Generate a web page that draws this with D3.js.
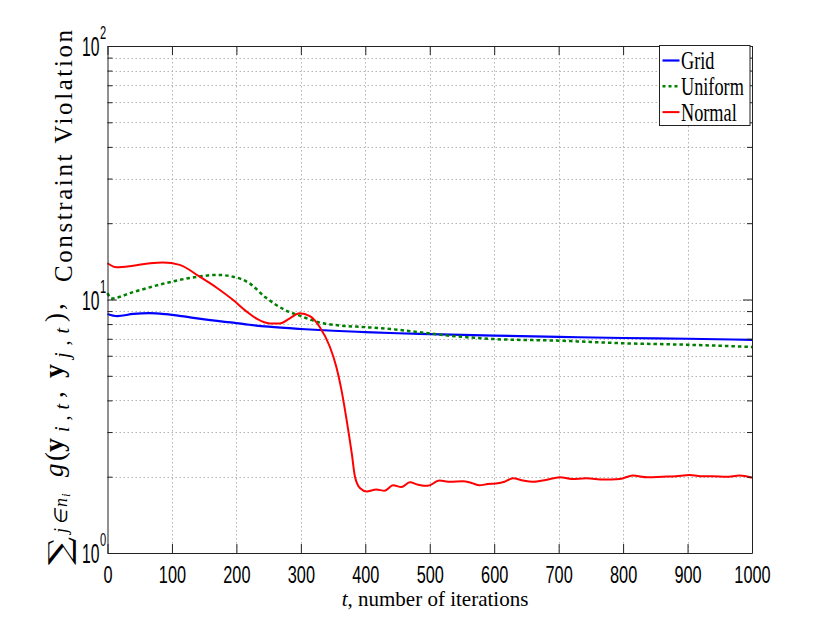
<!DOCTYPE html>
<html>
<head>
<meta charset="utf-8">
<script src="https://cdn.jsdelivr.net/npm/d3@7"></script>
<style>
body { margin: 0; background: #fff; }
</style>
</head>
<body>
<div id="chart"></div>
<script>
// values
var gridT = [0, 15, 40, 65, 90, 115, 145, 170, 195, 220, 250, 300, 350, 400, 450, 500, 600, 700, 800, 900, 1000];
var gridV = [8.77, 8.6, 8.77, 8.83, 8.75, 8.6, 8.38, 8.23, 8.1, 7.95, 7.81, 7.65, 7.53, 7.44, 7.36, 7.3, 7.2, 7.12, 7.05, 7.0, 6.93];

var uniformT = [0, 6, 40, 90, 140, 170, 195, 220, 245, 275, 300, 330, 360, 400, 450, 480, 530, 580, 600, 700, 800, 900, 1000];
var uniformV = [10.6, 10.1, 10.7, 11.6, 12.3, 12.5, 12.3, 11.6, 10.2, 9.1, 8.6, 8.1, 7.9, 7.78, 7.6, 7.45, 7.2, 7.03, 6.98, 6.88, 6.72, 6.63, 6.5];

var normalT = [0, 14, 40, 66, 86, 112, 143, 170, 195, 216, 232, 252, 267, 283, 298, 314, 329, 345, 355, 363, 371, 379, 384, 392, 402, 417, 430, 443, 456, 469, 482, 497, 515, 532, 551, 565, 577, 590, 603, 616, 629, 645, 660, 680, 702, 720, 743, 770, 795, 815, 838, 861, 882, 903, 920, 939, 960, 981, 1000];
var normalV = [13.9, 13.4, 13.6, 13.9, 14.0, 13.7, 12.3, 11.1, 9.95, 8.96, 8.38, 8.05, 8.05, 8.43, 8.83, 8.6, 7.81, 6.51, 5.43, 4.40, 3.35, 2.47, 2.0, 1.80, 1.75, 1.78, 1.76, 1.85, 1.82, 1.90, 1.86, 1.84, 1.93, 1.91, 1.92, 1.89, 1.85, 1.87, 1.88, 1.91, 1.97, 1.93, 1.91, 1.94, 1.99, 1.96, 1.97, 1.95, 1.96, 2.02, 1.99, 2.0, 2.01, 2.03, 2.01, 2.01, 2.0, 2.02, 1.98];

var seriesNames = ["Grid", "Uniform", "Normal"];
var xTicks = [0, 100, 200, 300, 400, 500, 600, 700, 800, 900, 1000];
var yMajor = [1, 10, 100];

var W = 830, H = 623;
var pLeft = 107.5, pRight = 752, pTop = 46, pBottom = 553;

var svg = d3.select("#chart").append("svg")
    .attr("width", W)
    .attr("height", H);

var x = d3.scaleLinear().domain([0, 1000]).range([pLeft, pRight]);
var y = d3.scaleLog().domain([1, 100]).range([pBottom, pTop]);
var yAll = y.ticks();

// dotted grid
var grid = svg.append("g")
    .attr("stroke", "#b4b4b4")
    .attr("stroke-width", 1)
    .attr("stroke-dasharray", "1.5,2.5");
grid.selectAll(".gx")
    .data(xTicks.slice(1, -1))
    .enter().append("line")
    .attr("x1", function(d) { return Math.round(x(d)) + 0.5; })
    .attr("x2", function(d) { return Math.round(x(d)) + 0.5; })
    .attr("y1", pTop)
    .attr("y2", pBottom);
grid.selectAll(".gy")
    .data(yAll.filter(function(d) { return d > 1 && d < 100; }))
    .enter().append("line")
    .attr("x1", pLeft)
    .attr("x2", pRight)
    .attr("y1", function(d) { return Math.round(y(d)) + 0.5; })
    .attr("y2", function(d) { return Math.round(y(d)) + 0.5; });

// series lines
var line = d3.line()
    .x(function(d) { return x(d[0]); })
    .y(function(d) { return y(d[1]); })
    .curve(d3.curveMonotoneX);

var series = [
    { name: seriesNames[0], data: d3.zip(gridT, gridV), color: "#0000ff", dash: null, w: 2.2 },
    { name: seriesNames[1], data: d3.zip(uniformT, uniformV), color: "#008000", dash: "3.5,3", w: 2.5 },
    { name: seriesNames[2], data: d3.zip(normalT, normalV), color: "#ff0000", dash: null, w: 2 }
];

svg.selectAll(".series")
    .data(series)
    .enter().append("path")
    .attr("d", function(d) { return line(d.data); })
    .attr("fill", "none")
    .attr("stroke", function(d) { return d.color; })
    .attr("stroke-width", function(d) { return d.w; })
    .attr("stroke-dasharray", function(d) { return d.dash; });

// axes (ticks point inwards)
function styleAxis(g) {
    g.select(".domain").attr("stroke", "#222");
    g.selectAll(".tick line").attr("stroke", "#222");
}

var xAxisB = svg.append("g")
    .attr("transform", "translate(0," + pBottom + ")")
    .call(d3.axisBottom(x).tickValues(xTicks).tickSizeInner(-9).tickSizeOuter(0).tickFormat(d3.format("d")))
    .call(styleAxis);
xAxisB.selectAll("text")
    .attr("y", 30.5)
    .attr("dy", 0)
    .attr("transform", "scale(0.68,1)")
    .attr("font-family", "Liberation Sans, Arial, sans-serif")
    .attr("font-size", 24)
    .attr("fill", "#000");

svg.append("g")
    .attr("transform", "translate(0," + pTop + ")")
    .call(d3.axisTop(x).tickValues(xTicks).tickSizeInner(-9).tickSizeOuter(0).tickFormat(""))
    .call(styleAxis);

function tickLen(d) { return yMajor.indexOf(d) >= 0 ? 9 : 5; }

var yAxisL = svg.append("g")
    .attr("transform", "translate(" + pLeft + ",0)")
    .call(d3.axisLeft(y).tickValues(yAll).tickSizeOuter(0).tickFormat(""))
    .call(styleAxis);
yAxisL.selectAll(".tick line").attr("x2", function(d) { return tickLen(d); });

var yAxisR = svg.append("g")
    .attr("transform", "translate(" + pRight + ",0)")
    .call(d3.axisRight(y).tickValues(yAll).tickSizeOuter(0).tickFormat(""))
    .call(styleAxis);
yAxisR.selectAll(".tick line").attr("x2", function(d) { return -tickLen(d); });

// y tick labels 10^n
var ylab = svg.append("g")
    .attr("font-family", "Liberation Sans, Arial, sans-serif")
    .attr("fill", "#000");
ylab.selectAll(".base")
    .data(yMajor)
    .enter().append("text")
    .attr("transform", function(d) { return "translate(99.5," + (y(d) + 10) + ") scale(0.58,1)"; })
    .attr("text-anchor", "end")
    .attr("font-size", 27)
    .text("10");
ylab.selectAll(".exp")
    .data(yMajor)
    .enter().append("text")
    .attr("transform", function(d) { return "translate(100," + (y(d) - 7) + ") scale(0.62,1)"; })
    .attr("font-size", 18)
    .text(function(d) { return Math.round(Math.log10(d)); });

// x label
var xl = svg.append("text")
    .attr("x", 435)
    .attr("y", 606)
    .attr("text-anchor", "middle")
    .attr("font-family", "Liberation Serif, serif")
    .attr("font-size", 21)
    .attr("fill", "#000");
xl.append("tspan").attr("font-style", "italic").text("t");
xl.append("tspan").text(", number of iterations");

// y label, set piece by piece (s = screen y where the piece starts, len = its extent, b = baseline x)
var ylPieces = [
    { t: "\u2211", s: 565, len: 28, b: 70, fs: 30, fam: "DejaVu Serif", adj: "spacingAndGlyphs" },
    { t: "j\u2208n", s: 533, len: 35, b: 67, fs: 18, it: true },
    { t: "i", s: 497, len: 6, b: 70, fs: 13, it: true },
    { t: "g", s: 477, len: 14, b: 63, fs: 27, it: true },
    { t: "(", s: 461, len: 8, b: 64, fs: 27 },
    { t: "y", s: 452, len: 18, b: 63, fs: 28, bold: true },
    { t: "i,t", s: 432, len: 28, b: 69, fs: 20, it: true },
    { t: ",", s: 398, len: 6, b: 63, fs: 27 },
    { t: "y", s: 378, len: 18, b: 63, fs: 28, bold: true },
    { t: "j,t", s: 358, len: 30, b: 69, fs: 20, it: true },
    { t: ")", s: 322, len: 8, b: 64, fs: 27 },
    { t: ",", s: 310, len: 6, b: 63, fs: 27 },
    { t: "Constraint Violation", s: 282, len: 252, b: 72, fs: 25 }
];
svg.append("g")
    .attr("transform", "rotate(-90)")
    .selectAll("text")
    .data(ylPieces)
    .enter().append("text")
    .attr("x", function(d) { return -d.s; })
    .attr("y", function(d) { return d.b; })
    .attr("font-family", function(d) { return d.fam || "Liberation Serif, serif"; })
    .attr("font-size", function(d) { return d.fs; })
    .attr("font-style", function(d) { return d.it ? "italic" : null; })
    .attr("font-weight", function(d) { return d.bold ? "bold" : null; })
    .attr("textLength", function(d) { return d.t.length > 1 || d.adj ? d.len : null; })
    .attr("lengthAdjust", function(d) { return d.adj || "spacing"; })
    .attr("fill", "#000")
    .text(function(d) { return d.t; });

// legend
var lg = svg.append("g");
lg.append("rect")
    .attr("x", 659.5)
    .attr("y", 45.5)
    .attr("width", 90.5)
    .attr("height", 80)
    .attr("fill", "#fff")
    .attr("stroke", "#222");
var item = lg.selectAll(".item")
    .data(series)
    .enter().append("g")
    .attr("transform", function(d, i) { return "translate(0," + (60.5 + i * 25.8) + ")"; });
item.append("line")
    .attr("x1", 662.5)
    .attr("x2", 679.5)
    .attr("stroke", function(d) { return d.color; })
    .attr("stroke-width", function(d) { return d.w; })
    .attr("stroke-dasharray", function(d) { return d.dash ? "3,3" : null; });
item.append("text")
    .attr("transform", "translate(681,8.5) scale(0.73,1)")
    .attr("font-family", "Liberation Serif, serif")
    .attr("font-size", 25)
    .attr("fill", "#000")
    .text(function(d) { return d.name; });
</script>
</body>
</html>
